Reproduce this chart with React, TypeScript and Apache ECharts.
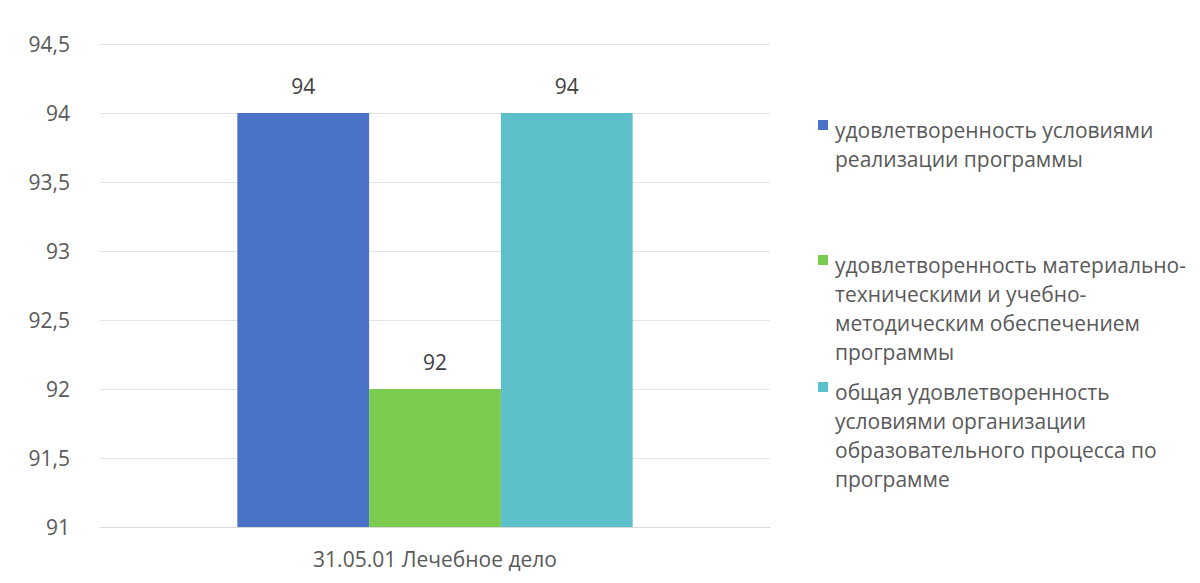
import React, { useEffect, useRef } from "react";
import * as echarts from "echarts";

const categories = ["31.05.01 Лечебное дело"];
const seriesNames = [
  "удовлетворенность условиями\nреализации программы",
  "удовлетворенность материально-\nтехническими и учебно-\nметодическим обеспечением\nпрограммы",
  "общая удовлетворенность\nусловиями организации\nобразовательного процесса по\nпрограмме",
];
const seriesValues = [[94], [92], [94]];
const seriesColors = ["#4a72c6", "#7acb4e", "#5cbfca"];
const legendFirstLineCenters = [130, 265, 392];

const FONT = "'Open Sans', 'Noto Sans', sans-serif";
const FS = 21;
const LH = 29;

export default function App() {
  const ref = useRef<HTMLDivElement>(null);
  useEffect(() => {
    const chart = echarts.init(ref.current!, null, { renderer: "svg" });
    const legendGraphics: any[] = [];
    seriesNames.forEach((n, i) => {
      const c = legendFirstLineCenters[i];
      legendGraphics.push({
        type: "rect",
        shape: { x: 818, y: c - 10, width: 10, height: 10 },
        style: { fill: seriesColors[i] },
      });
      legendGraphics.push({
        type: "text",
        x: 835,
        y: c - LH / 2,
        style: {
          text: n,
          fontFamily: FONT,
          fontSize: FS,
          lineHeight: LH,
          fill: "#595959",
          verticalAlign: "top",
          align: "left",
        },
      });
    });
    chart.setOption({
      animation: false,
      backgroundColor: "#ffffff",
      textStyle: { fontFamily: FONT },
      grid: { left: 100, right: 430, top: 44, bottom: 56 },
      graphic: legendGraphics,
      xAxis: {
        type: "category",
        data: categories,
        axisLine: { lineStyle: { color: "#d9d9d9" } },
        axisTick: { show: false },
        axisLabel: { fontSize: FS, color: "#595959", margin: 21, fontFamily: FONT },
      },
      yAxis: {
        type: "value",
        min: 91,
        max: 94.5,
        interval: 0.5,
        axisLine: { show: false },
        axisTick: { show: false },
        splitLine: { lineStyle: { color: "#e3e3e3" } },
        axisLabel: {
          fontSize: FS,
          color: "#595959",
          margin: 30,
          fontFamily: FONT,
          formatter: (v: number) => String(v).replace(".", ","),
        },
      },
      series: seriesNames.map((n, i) => ({
        name: n,
        type: "bar",
        data: seriesValues[i],
        barGap: "0%",
        barCategoryGap: "41%",
        itemStyle: { color: seriesColors[i] },
        label: {
          show: true,
          position: "top",
          distance: 17,
          fontSize: FS,
          color: "#404040",
          fontFamily: FONT,
        },
      })),
    });
    return () => chart.dispose();
  }, []);
  return (
    <div
      ref={ref}
      style={{ position: "fixed", left: 0, top: 0, width: 1200, height: 583 }}
    />
  );
}
